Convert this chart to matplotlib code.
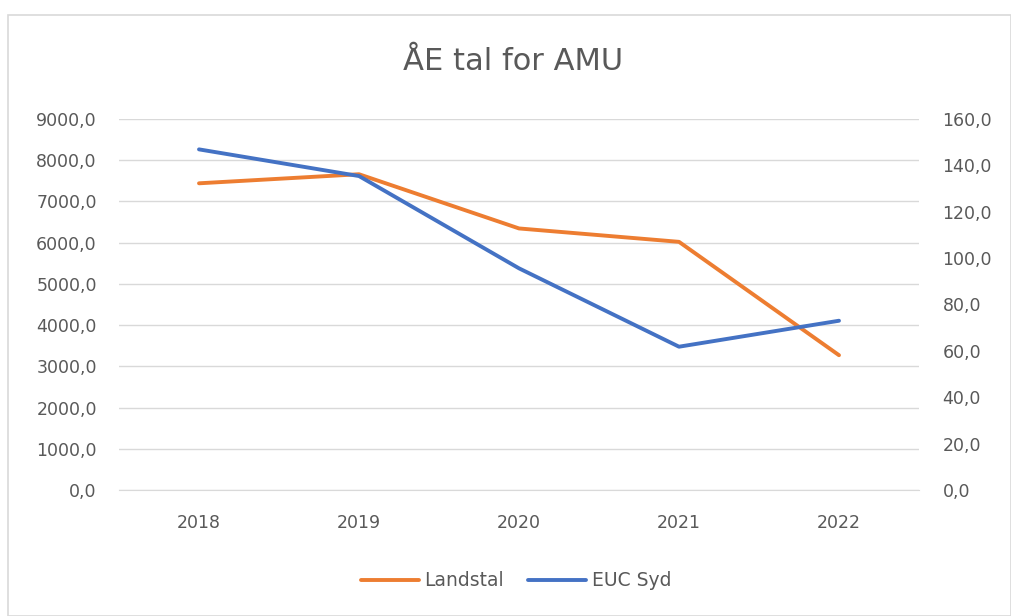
import matplotlib
matplotlib.use("Agg")
import matplotlib.pyplot as plt
from matplotlib.patches import Rectangle

years = ["2018", "2019", "2020", "2021", "2022"]
landstal = [7440, 7660, 6345, 6020, 3270]
euc_syd = [146.9, 135.4, 95.6, 61.8, 73.0]
left_ticks = [0, 1000, 2000, 3000, 4000, 5000, 6000, 7000, 8000, 9000]
right_ticks = [0, 20, 40, 60, 80, 100, 120, 140, 160]

def fmt(v):
    return f"{v:.1f}".replace(".", ",")

plt.rcParams['font.family'] = ['DejaVu Sans']
txt = '#595959'

fig = plt.figure(figsize=(10.11, 6.16), dpi=100)
fig.patches.append(Rectangle((8/1011, 0), 1 - 8/1011, 1 - 15/616, transform=fig.transFigure,
                             fill=False, edgecolor='#D9D9D9', linewidth=1.2))

ax = fig.add_axes([119/1011, 1 - 490/616, 800/1011, 371/616])
ax2 = ax.twinx()

x = list(range(len(years)))
l1, = ax.plot(x, landstal, color='#ED7D31', linewidth=2.8, solid_capstyle='round', label='Landstal', zorder=3)
l2, = ax2.plot(x, euc_syd, color='#4472C4', linewidth=2.8, solid_capstyle='round', label='EUC Syd', zorder=3)

ax.set_xlim(-0.5, 4.5)
ax.set_ylim(0, 9000)
ax2.set_ylim(0, 160)
ax.set_yticks(left_ticks)
ax.set_yticklabels([fmt(v) for v in left_ticks])
ax2.set_yticks(right_ticks)
ax2.set_yticklabels([fmt(v) for v in right_ticks])
ax.set_xticks(x)
ax.set_xticklabels(years)

ax.grid(axis='y', color='#D9D9D9', linewidth=1)
ax.set_axisbelow(True)
for a in (ax, ax2):
    for s in a.spines.values():
        s.set_visible(False)
ax.spines['bottom'].set_visible(True)
ax.spines['bottom'].set_color('#D9D9D9')
ax.tick_params(axis='both', length=0, labelsize=12.5, labelcolor=txt)
ax.tick_params(axis='y', pad=16)
ax.tick_params(axis='x', pad=17)
ax2.tick_params(axis='y', length=0, labelsize=12.5, labelcolor=txt, pad=17)

fig.text(513/1011, 1 - 62/616, "ÅE tal for AMU", ha='center', va='center', fontsize=22, color=txt)

fig.legend(handles=[l1, l2], loc='center', bbox_to_anchor=(516/1011, 1 - 581/616), ncol=2,
           frameon=False, fontsize=13.5, labelcolor=txt, handlelength=3.1, handletextpad=0.3,
           columnspacing=1.3)

fig.savefig("out.png", dpi=100, facecolor='white')
